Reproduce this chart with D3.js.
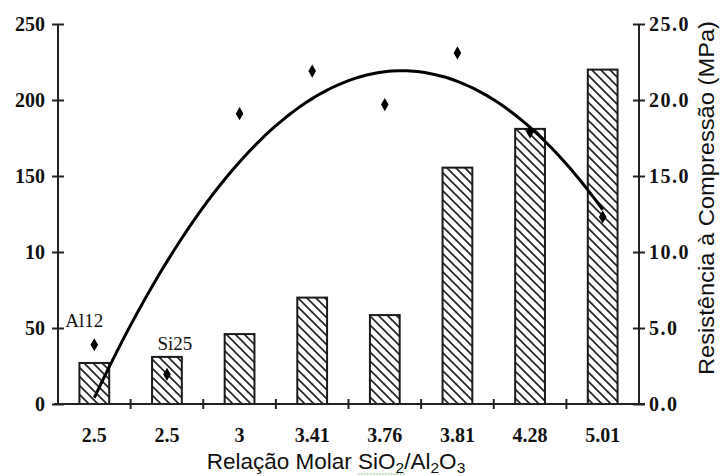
<!DOCTYPE html>
<html>
<head>
<meta charset="utf-8">
<script src="https://cdn.jsdelivr.net/npm/d3@7"></script>
<style>
  body { margin: 0; background: #fff; }
  svg { display: block; }
</style>
</head>
<body>
<script>
// x categories (molar ratio SiO2/Al2O3)
let ratios = ["2.5", "2.5", "3", "3.41", "3.76", "3.81", "4.28", "5.01"];
// hatched bars, left axis
let barValues = [27, 31, 46, 70, 58.5, 155.5, 181, 220];
// compressive strength points (MPa), right axis
let strength = [3.9, 1.95, 19.1, 21.9, 19.7, 23.1, 17.9, 12.3];
// sample labels on the first two points
let pointLabels = [{i: 0, text: "Al12", dx: -10, dy: -18}, {i: 1, text: "Si25", dx: 8, dy: -24}];
// tick labels as printed (the "10" is in the original)
let leftTicks = [0, 50, 100, 150, 200, 250];
let leftTickText = ["0", "50", "10", "150", "200", "250"];
let rightTicks = [0, 5, 10, 15, 20, 25];

let width = 724, height = 476;
let plotL = 58, plotR = 639, plotT = 24, plotB = 404;
let serif = "'Liberation Serif', 'Times New Roman', serif";
let sans = "'Liberation Sans', Arial, sans-serif";
let ink = "#111";

let svg = d3.select("body").append("svg")
  .attr("width", width)
  .attr("height", height);

let x = d3.scaleBand().domain(d3.range(ratios.length)).range([plotL, plotR]);
let yL = d3.scaleLinear().domain([0, 250]).range([plotB, plotT]);
let yR = d3.scaleLinear().domain([0, 25]).range([plotB, plotT]);
let barW = x.bandwidth() * 0.41;
let cx = i => x(i) + x.bandwidth() / 2;

// hatch pattern
let pat = svg.append("defs").append("pattern")
  .attr("id", "hatch")
  .attr("patternUnits", "userSpaceOnUse")
  .attr("width", 9)
  .attr("height", 9);
pat.append("rect").attr("width", 9).attr("height", 9).attr("fill", "#fff");
pat.append("path")
  .attr("d", "M-1,-1 L10,10 M-1,8 L1,10 M8,-1 L10,1")
  .attr("stroke", "#222")
  .attr("stroke-width", 1.6);

// bars
svg.append("g").selectAll("rect")
  .data(barValues)
  .enter().append("rect")
  .attr("x", (d, i) => cx(i) - barW / 2)
  .attr("y", d => yL(d))
  .attr("width", barW)
  .attr("height", d => yL(0) - yL(d))
  .attr("fill", "url(#hatch)")
  .attr("stroke", "#1a1a1a")
  .attr("stroke-width", 2);

// quadratic least-squares trend of the strength points
let n = strength.length;
let sums = d3.range(5).map(p => d3.sum(d3.range(n), i => Math.pow(i, p)));
let sxy = d3.range(3).map(p => d3.sum(strength, (v, i) => v * Math.pow(i, p)));
let M = [[sums[0], sums[1], sums[2], sxy[0]],
         [sums[1], sums[2], sums[3], sxy[1]],
         [sums[2], sums[3], sums[4], sxy[2]]];
for (let c = 0; c < 3; c++) {
  for (let r = c + 1; r < 3; r++) {
    let f = M[r][c] / M[c][c];
    for (let k = c; k < 4; k++) M[r][k] -= f * M[c][k];
  }
}
let coef = [0, 0, 0];
for (let r = 2; r >= 0; r--) {
  let s = M[r][3];
  for (let k = r + 1; k < 3; k++) s -= M[r][k] * coef[k];
  coef[r] = s / M[r][r];
}
let xi = d3.scaleLinear().domain([0, n - 1]).range([cx(0), cx(n - 1)]);
let trend = d3.range(0, n - 1 + 1e-9, 0.1).map(t => [t, coef[0] + coef[1] * t + coef[2] * t * t]);

svg.append("path")
  .datum(trend)
  .attr("fill", "none")
  .attr("stroke", "#000")
  .attr("stroke-width", 3)
  .attr("d", d3.line().x(d => xi(d[0])).y(d => yR(d[1])).curve(d3.curveMonotoneX));

// points
svg.append("g").selectAll("path")
  .data(strength)
  .enter().append("path")
  .attr("transform", (d, i) => `translate(${cx(i)},${yR(d)})`)
  .attr("d", d3.symbol().type(d3.symbolDiamond).size(50))
  .attr("fill", "#000");

svg.append("g").selectAll("text")
  .data(pointLabels)
  .enter().append("text")
  .attr("x", d => cx(d.i) + d.dx)
  .attr("y", d => yR(strength[d.i]) + d.dy)
  .attr("text-anchor", "middle")
  .attr("font-family", serif)
  .attr("font-size", 19)
  .attr("fill", ink)
  .text(d => d.text);

// left axis
let axL = svg.append("g")
  .attr("transform", `translate(${plotL},0)`)
  .call(d3.axisLeft(yL).tickValues(leftTicks).tickFormat((d, i) => leftTickText[i]).tickSize(6).tickPadding(7));
axL.selectAll(".tick line").attr("x1", -6).attr("x2", 6);

// right axis
let axR = svg.append("g")
  .attr("transform", `translate(${plotR},0)`)
  .call(d3.axisRight(yR).tickValues(rightTicks).tickFormat(d3.format(".1f")).tickSize(6).tickPadding(4));
axR.selectAll(".tick line").attr("x1", -6).attr("x2", 6);

// bottom axis: labels at band centres, marks at band edges
let axB = svg.append("g")
  .attr("transform", `translate(0,${plotB})`)
  .call(d3.axisBottom(x).tickFormat(i => ratios[i]).tickSize(0).tickPadding(24));
axB.select(".domain").attr("d", `M${plotL - 4},0H${plotR + 6}`);
axB.selectAll(".edge")
  .data(d3.range(1, ratios.length))
  .enter().append("line")
  .attr("x1", i => x(i)).attr("x2", i => x(i))
  .attr("y1", -5).attr("y2", 5);

[axL, axR, axB].forEach(g => {
  g.selectAll(".domain").attr("stroke", "#222").attr("stroke-width", 2);
  g.selectAll("line").attr("stroke", "#222").attr("stroke-width", 2);
  g.selectAll("text")
    .attr("font-family", serif)
    .attr("font-weight", "bold")
    .attr("font-size", 20)
    .attr("fill", ink);
});
axR.selectAll("text").attr("letter-spacing", 1.5);
axL.select(".domain").attr("d", `M0,${plotB}V${plotT}`);
axR.select(".domain").attr("d", `M0,${plotB}V${plotT}`);

// x title with subscripts
let xt = svg.append("text")
  .attr("x", 336)
  .attr("y", 469)
  .attr("text-anchor", "middle")
  .attr("font-family", sans)
  .attr("font-size", 22.5)
  .attr("fill", ink);
xt.append("tspan").text("Relação Molar ");
xt.append("tspan").text("SiO");
xt.append("tspan").attr("dy", 4).attr("font-size", 15.5).text("2");
xt.append("tspan").attr("dy", -4).text("/Al");
xt.append("tspan").attr("dy", 4).attr("font-size", 15.5).text("2");
xt.append("tspan").attr("dy", -4).text("O");
xt.append("tspan").attr("dy", 4).attr("font-size", 15.5).text("3");

// spell-check squiggle under SiO2, as in the source image
let node = xt.node();
let s0 = node.getStartPositionOfChar(14).x;
let s1 = node.getEndPositionOfChar(17).x;
svg.append("line")
  .attr("x1", s0).attr("x2", s1)
  .attr("y1", 474).attr("y2", 474)
  .attr("stroke", "#5fae5f")
  .attr("stroke-width", 1.2)
  .attr("stroke-dasharray", "1.5,1.5");

// right title
svg.append("text")
  .attr("transform", "translate(714,198) rotate(-90)")
  .attr("text-anchor", "middle")
  .attr("font-family", sans)
  .attr("font-size", 22)
  .attr("textLength", 354)
  .attr("lengthAdjust", "spacingAndGlyphs")
  .attr("fill", ink)
  .text("Resistência à Compressão (MPa)");
</script>
</body>
</html>
